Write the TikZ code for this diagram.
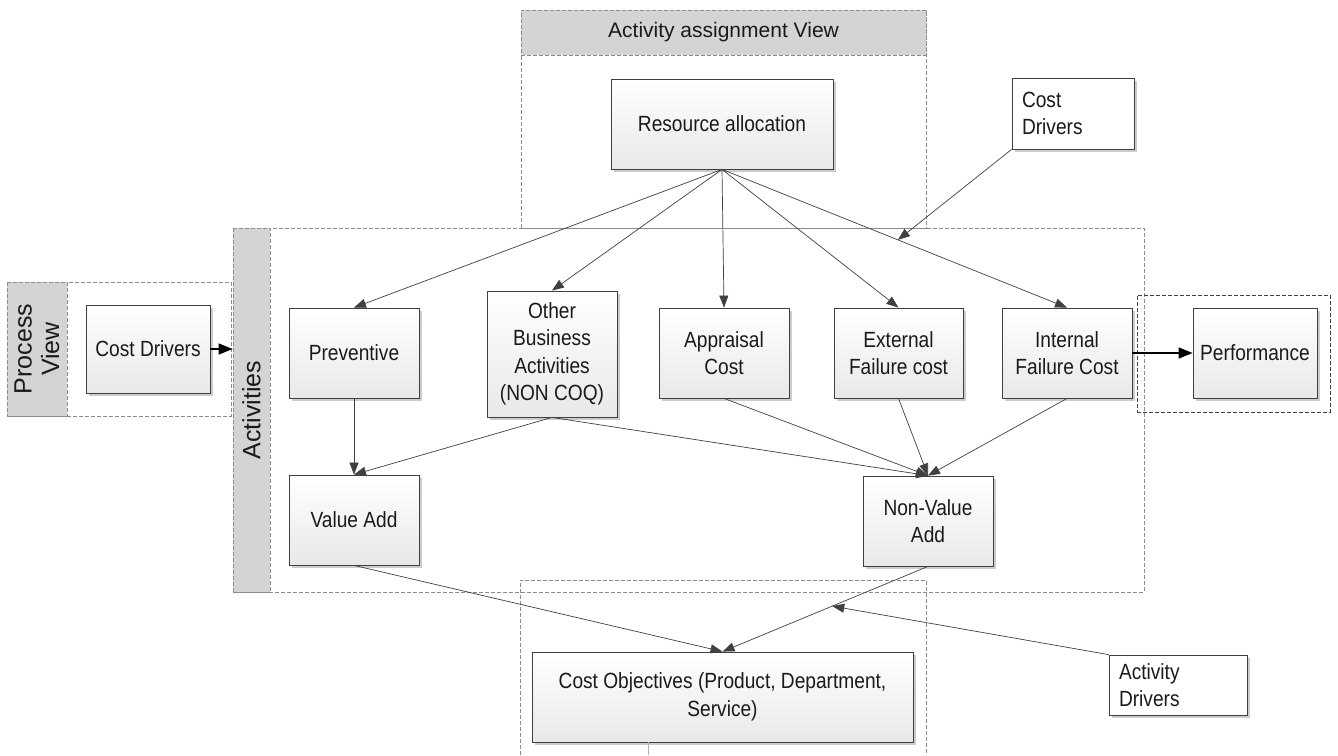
\documentclass[tikz,border=0pt]{standalone}
\usepackage{fontspec}
\setmainfont{Liberation Sans}[FakeStretch=0.87]
\newfontfamily\plainsans{Liberation Sans}
\usetikzlibrary{arrows.meta,shadows,calc}

\definecolor{edge}{HTML}{404040}
\definecolor{band}{HTML}{D4D4D4}
\definecolor{framegray}{HTML}{8C8C8C}
\definecolor{ink}{HTML}{1A1A1A}

\begin{document}
\begin{tikzpicture}[x=1pt,y=-1pt,
  every node/.style={font=\fontsize{22}{27.5}\selectfont, text=ink},
  boxshadow/.style={drop shadow={shadow xshift=2.5pt, shadow yshift=-2.5pt, fill=black!20, opacity=1}},
  box/.style={draw=edge, line width=0.8pt, top color=white, bottom color=black!9,
    boxshadow, align=center, inner sep=4pt},
  note/.style={draw=edge, line width=0.8pt, fill=white, boxshadow,
    align=left, inner xsep=10pt, inner ysep=4pt},
  frame/.style={draw=framegray, dash pattern=on 4pt off 2pt, line width=0.8pt, inner sep=0pt},
  bandbox/.style={frame, fill=band},
  link/.style={draw=edge, line width=0.7pt, -{Triangle[length=12pt,width=9pt]}},
  heavy/.style={draw=black, line width=1.4pt, -{Triangle[length=14pt,width=11pt]}},
]
% canvas
\path[use as bounding box, fill=white] (0,0) rectangle (1338,755);

% ---- view containers ----
\node[frame, minimum width=405, minimum height=218] (avc) at (723.5,119) {};
\node[bandbox, minimum width=405, minimum height=45] (avh) at (723.5,32.5)
  {\plainsans\fontsize{21}{25}\selectfont Activity assignment View};

\node[frame, minimum width=911, minimum height=364] (actc) at (688.5,410) {};
\node[bandbox, rotate=90, minimum width=364, minimum height=37] (actb) at (251.5,410)
  {\plainsans\fontsize{25}{25}\selectfont Activities};

\node[frame, minimum width=224, minimum height=134] (pvc) at (119,349) {};
\node[bandbox, rotate=90, minimum width=134, minimum height=60, align=center] (pvb) at (37,349)
  {\plainsans\fontsize{25}{23}\selectfont Process\\ \plainsans\fontsize{25}{23}\selectfont View};

\node[draw=black!75, dash pattern=on 4pt off 2pt, line width=0.8pt, inner sep=0pt,
  minimum width=193, minimum height=117] (perfc) at (1233.5,353.5) {};

\coordinate (cobl) at (520,755);
\coordinate (cobr) at (926,755);
\draw[frame] (cobl) -- (cobl |- 0,580) -- (cobr |- 0,580) -- (cobr);

% ---- boxes ----
\node[box, minimum width=222, minimum height=90] (res) at (722,124) {Resource allocation};
\node[note, minimum width=122, minimum height=71, text width=102] (cd1) at (1073,113.5) {Cost\\Drivers};

\node[box, minimum width=124, minimum height=88] (pcd) at (148,349) {Cost Drivers};

\node[box, minimum width=130, minimum height=90] (prev) at (354,353) {Preventive};
\node[box, minimum width=130, minimum height=126] (oba) at (552,354) {Other\\Business\\Activities\\(NON COQ)};
\node[box, minimum width=130, minimum height=90] (app) at (724,353) {Appraisal\\Cost};
\node[box, minimum width=129, minimum height=90] (ext) at (898.5,353) {External\\Failure cost};
\node[box, minimum width=130, minimum height=90] (int) at (1067,353) {Internal\\Failure Cost};
\node[box, minimum width=124, minimum height=90] (perf) at (1255,353) {Performance};

\node[box, minimum width=130, minimum height=90] (va) at (354,520) {Value Add};
\node[box, minimum width=130, minimum height=90] (nva) at (928,521) {Non-Value\\Add};

\node[box, minimum width=381, minimum height=90] (co) at (722.5,697) {Cost Objectives (Product, Department,\\Service)};
\node[note, minimum width=138, minimum height=60, text width=118] (ad) at (1178,685) {Activity\\Drivers};

% ---- connectors ----
\draw[link] (res.south) -- (prev.north);
\draw[link] (res.south) -- (oba.north);
\draw[link] (res.south) -- (app.north);
\draw[link] (res.south) -- (ext.north);
\draw[link] (res.south) -- (int.north);

\coordinate (cdhit) at ($(res.south)!0.51!(int.north)$);
\draw[link] (cd1.south west) -- (cdhit);

\draw[heavy] (pcd.east) -- (pcd.east -| actc.west);
\draw[heavy] (int.east) -- (perf.west);

\draw[link] (prev.south) -- (va.north);
\draw[link] (oba.south) -- (va.north);
\draw[link] (oba.south) -- (nva.north);
\draw[link] (app.south) -- (nva.north);
\draw[link] (ext.south) -- (nva.north);
\draw[link] (int.south) -- (nva.north);

\draw[link] (va.south) -- (co.north);
\draw[link] (nva.south) -- (co.north);

\coordinate (adhit) at ($(nva.south)!0.466!(co.north)$);
\draw[link] (ad.north west) -- (adhit);

\coordinate (cotail) at (648,755);
\draw[draw=black!30, line width=0.8pt] (co.south -| cotail) -- (cotail);
\end{tikzpicture}
\end{document}
